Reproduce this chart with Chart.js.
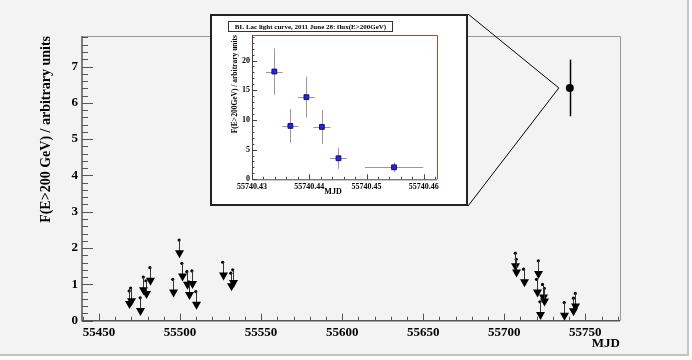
<!DOCTYPE html>
<html>
<head>
<meta charset="utf-8">
<script src="https://cdn.jsdelivr.net/npm/chart.js@4.4.0/dist/chart.umd.min.js"></script>
<style>
  html, body { margin: 0; padding: 0; background: #fff; }
  #wrap { position: relative; width: 692px; height: 360px; }
  #main { position: absolute; left: 0; top: 0; }
  #inset { position: absolute; left: 210px; top: 14px; }
</style>
</head>
<body>
<div id="wrap">
  <canvas id="main" width="692" height="360"></canvas>
  <canvas id="inset" width="258" height="192"></canvas>
</div>
<script>
// upper limits per night (MJD, flux UL)
var ulDates  = [55468.6, 55469.5, 55475.4, 55477.3, 55478.9, 55481.4, 55495.5, 55499.4, 55501.1,
                55504.2, 55505.4, 55507.3, 55509.7, 55526.3, 55531.3, 55532.5,
                55706.8, 55707.4, 55711.9, 55719.9, 55721.0, 55722.0, 55723.6, 55724.7,
                55737.0, 55742.7, 55743.8];
var ulValues = [0.82, 0.90, 0.63, 1.20, 1.10, 1.46, 1.14, 2.22, 1.58,
                1.35, 1.07, 1.37, 0.80, 1.61, 1.31, 1.40,
                1.86, 1.69, 1.42, 1.14, 1.65, 0.52, 1.00, 0.89,
                0.50, 0.62, 0.75];
var arrowLen = 0.5;

// the flare night
var flareDate = [55740.44];
var flareFlux = [6.41];
var flareErr  = [0.78];

// inset: 2011 June 28
var nightMjd     = [55740.4339, 55740.4367, 55740.4395, 55740.4422, 55740.4451, 55740.4548];
var nightMjdErr  = [0.00146, 0.0014, 0.0015, 0.0015, 0.0015, 0.0051];
var nightFlux    = [18.15, 8.99, 13.83, 8.82, 3.54, 2.02];
var nightFluxErr = [3.9, 2.85, 3.45, 2.85, 1.77, 0.8];

var xTicks = [55450, 55500, 55550, 55600, 55650, 55700, 55750];
var yTicks = [0, 1, 2, 3, 4, 5, 6, 7];
var insetXTicks = [55740.43, 55740.44, 55740.45, 55740.46];
var insetYTicks = [0, 5, 10, 15, 20];

var serif = "'Liberation Serif', 'Times New Roman', serif";

function minors(majors, step, lo, hi) {
  var out = [];
  var start = majors[0] - step * Math.ceil((majors[0] - lo) / step);
  for (var v = start; v <= hi + 1e-9; v += step) out.push(+v.toFixed(6));
  return out;
}

function drawTicks(ctx, chart, xs, ys, xl, yl) {
  var a = chart.chartArea, sx = chart.scales.x, sy = chart.scales.y;
  ctx.beginPath();
  xs.forEach(function (v) {
    if (v < sx.min || v > sx.max) return;
    var p = Math.round(sx.getPixelForValue(v)) + 0.5;
    ctx.moveTo(p, a.bottom); ctx.lineTo(p, a.bottom - xl);
  });
  ys.forEach(function (v) {
    if (v < sy.min || v > sy.max) return;
    var p = Math.round(sy.getPixelForValue(v)) + 0.5;
    ctx.moveTo(a.left, p); ctx.lineTo(a.left + yl, p);
  });
  ctx.stroke();
}

var mainDecor = {
  id: 'mainDecor',
  beforeDraw: function (chart) {
    var ctx = chart.ctx;
    ctx.save();
    ctx.fillStyle = '#f3f3f3';
    ctx.fillRect(0, 0, 689, 356);
    ctx.strokeStyle = '#c4c4c4';
    ctx.lineWidth = 2;
    ctx.beginPath();
    ctx.moveTo(0, 355); ctx.lineTo(688, 355); ctx.lineTo(688, 0);
    ctx.stroke();
    ctx.restore();
  },
  afterDatasetsDraw: function (chart) {
    var ctx = chart.ctx, a = chart.chartArea;
    var sx = chart.scales.x, sy = chart.scales.y;
    ctx.save();
    // frame
    ctx.strokeStyle = '#999';
    ctx.lineWidth = 1;
    ctx.beginPath();
    ctx.moveTo(a.left, a.top + 0.5); ctx.lineTo(a.right + 0.5, a.top + 0.5); ctx.lineTo(a.right + 0.5, a.bottom);
    ctx.stroke();
    ctx.strokeStyle = '#555';
    ctx.lineWidth = 1.5;
    ctx.beginPath();
    ctx.moveTo(a.left, a.top); ctx.lineTo(a.left, a.bottom); ctx.lineTo(a.right, a.bottom);
    ctx.stroke();
    ctx.lineWidth = 1;
    drawTicks(ctx, chart, xTicks, yTicks, 7, 11);
    drawTicks(ctx, chart, minors(xTicks, 10, sx.min, sx.max), minors(yTicks, 0.2, sy.min, sy.max), 4, 6);

    // upper limit arrows
    ulDates.forEach(function (d, i) {
      var x = Math.round(sx.getPixelForValue(d)) + 0.5;
      var y0 = sy.getPixelForValue(ulValues[i]);
      var y1 = sy.getPixelForValue(ulValues[i] - arrowLen);
      ctx.strokeStyle = '#333';
      ctx.lineWidth = 1;
      ctx.beginPath(); ctx.moveTo(x, y0); ctx.lineTo(x, y1 - 6); ctx.stroke();
      ctx.fillStyle = '#000';
      ctx.beginPath();
      ctx.moveTo(x, y1); ctx.lineTo(x - 4.5, y1 - 8); ctx.lineTo(x + 4.5, y1 - 8); ctx.closePath();
      ctx.fill();
    });

    // flare error bar
    flareDate.forEach(function (d, i) {
      var x = Math.round(sx.getPixelForValue(d)) + 0.5;
      ctx.strokeStyle = '#000';
      ctx.lineWidth = 1.5;
      ctx.beginPath();
      ctx.moveTo(x, sy.getPixelForValue(flareFlux[i] + flareErr[i]));
      ctx.lineTo(x, sy.getPixelForValue(flareFlux[i] - flareErr[i]));
      ctx.stroke();
      // zoom lines towards the inset
      var px = sx.getPixelForValue(d) - 11, py = sy.getPixelForValue(flareFlux[i]);
      ctx.lineWidth = 1;
      ctx.beginPath();
      ctx.moveTo(468, 14); ctx.lineTo(px, py); ctx.lineTo(468, 206);
      ctx.stroke();
    });
    ctx.restore();
  }
};

new Chart(document.getElementById('main'), {
  type: 'scatter',
  data: {
    datasets: [{
      data: ulDates.map(function (d, i) { return { x: d, y: ulValues[i] }; }),
      pointRadius: 1.6,
      pointBackgroundColor: '#000',
      pointBorderWidth: 0
    }, {
      data: flareDate.map(function (d, i) { return { x: d, y: flareFlux[i] }; }),
      pointRadius: 4,
      pointBackgroundColor: '#000',
      pointBorderWidth: 0
    }]
  },
  options: {
    responsive: false,
    animation: false,
    events: [],
    layout: { padding: { left: 0, top: 36, right: 72, bottom: 0 } },
    plugins: { legend: { display: false }, tooltip: { enabled: false } },
    scales: {
      x: {
        type: 'linear', min: 55439.5, max: 55771.4,
        grid: { display: false, drawTicks: false },
        border: { display: false },
        afterBuildTicks: function (s) { s.ticks = xTicks.map(function (v) { return { value: v }; }); },
        afterFit: function (s) { s.height = 39.3; },
        ticks: { color: '#000', padding: 4, maxRotation: 0, autoSkip: false,
                 font: { family: serif, size: 13, weight: 'bold' },
                 callback: function (v) { return String(v); } },
        title: { display: true, text: 'MJD', align: 'end', color: '#000',
                 padding: { bottom: 9 }, font: { family: serif, size: 13, weight: 'bold' } }
      },
      y: {
        min: 0, max: 7.84,
        grid: { display: false, drawTicks: false },
        border: { display: false },
        afterBuildTicks: function (s) { s.ticks = yTicks.map(function (v) { return { value: v }; }); },
        afterFit: function (s) { s.width = 82; },
        ticks: { color: '#000', padding: 4, autoSkip: false,
                 font: { family: serif, size: 13, weight: 'bold' } },
        title: { display: true, text: 'F(E>200 GeV) / arbitrary units', align: 'end', color: '#000',
                 padding: { top: 38 }, font: { family: serif, size: 14, weight: 'bold' } }
      }
    }
  },
  plugins: [mainDecor]
});

var insetDecor = {
  id: 'insetDecor',
  beforeDraw: function (chart) {
    var ctx = chart.ctx;
    ctx.save();
    ctx.fillStyle = '#fff';
    ctx.fillRect(0, 0, chart.width, chart.height);
    ctx.restore();
  },
  beforeDatasetsDraw: function (chart) {
    var ctx = chart.ctx, sx = chart.scales.x, sy = chart.scales.y;
    ctx.save();
    ctx.strokeStyle = '#999';
    ctx.lineWidth = 1;
    ctx.beginPath();
    nightMjd.forEach(function (m, i) {
      var x = Math.round(sx.getPixelForValue(m)) + 0.5, y = Math.round(sy.getPixelForValue(nightFlux[i])) + 0.5;
      ctx.moveTo(sx.getPixelForValue(m - nightMjdErr[i]), y);
      ctx.lineTo(sx.getPixelForValue(m + nightMjdErr[i]), y);
      ctx.moveTo(x, sy.getPixelForValue(nightFlux[i] + nightFluxErr[i]));
      ctx.lineTo(x, sy.getPixelForValue(nightFlux[i] - nightFluxErr[i]));
    });
    ctx.stroke();
    ctx.restore();
  },
  afterDraw: function (chart) {
    var ctx = chart.ctx, a = chart.chartArea;
    ctx.save();
    ctx.strokeStyle = '#a04a3a';
    ctx.lineWidth = 1;
    ctx.beginPath();
    ctx.moveTo(a.left, a.top + 0.5); ctx.lineTo(a.right + 0.5, a.top + 0.5); ctx.lineTo(a.right + 0.5, a.bottom);
    ctx.stroke();
    ctx.strokeStyle = '#444';
    ctx.beginPath();
    ctx.moveTo(a.left + 0.5, a.top); ctx.lineTo(a.left + 0.5, a.bottom + 0.5); ctx.lineTo(a.right, a.bottom + 0.5);
    ctx.stroke();
    var sx = chart.scales.x, sy = chart.scales.y;
    drawTicks(ctx, chart, insetXTicks, insetYTicks, 5, 5);
    drawTicks(ctx, chart, minors(insetXTicks, 0.002, sx.min, sx.max), minors(insetYTicks, 1, sy.min, sy.max), 2.5, 2.5);
    // x axis title, sitting between the tick labels as in the original
    ctx.fillStyle = '#000';
    ctx.font = 'bold 8px ' + serif;
    ctx.textAlign = 'center';
    ctx.textBaseline = 'middle';
    ctx.fillText('MJD', 123, 178);
    // title box
    ctx.fillStyle = '#fff';
    ctx.fillRect(18.5, 7.5, 164, 10);
    ctx.strokeStyle = '#333';
    ctx.strokeRect(18.5, 7.5, 164, 10);
    ctx.fillStyle = '#000';
    ctx.font = 'bold 7px ' + serif;
    ctx.fillText('BL Lac light curve, 2011 June 28: flux(E>200GeV)', 100.5, 12.8);
    // pad border
    ctx.strokeStyle = '#222';
    ctx.lineWidth = 2;
    ctx.strokeRect(1, 1, chart.width - 2, chart.height - 2);
    ctx.restore();
  }
};

new Chart(document.getElementById('inset'), {
  type: 'scatter',
  data: {
    datasets: [{
      data: nightMjd.map(function (m, i) { return { x: m, y: nightFlux[i] }; }),
      pointStyle: 'rect',
      pointRadius: 3.4,
      pointBackgroundColor: '#2a22e6',
      pointBorderColor: '#10107a',
      pointBorderWidth: 1
    }]
  },
  options: {
    responsive: false,
    animation: false,
    events: [],
    layout: { padding: { left: 0, top: 21, right: 31, bottom: 0 } },
    plugins: { legend: { display: false }, tooltip: { enabled: false } },
    scales: {
      x: {
        type: 'linear', min: 55740.43, max: 55740.4623,
        grid: { display: false, drawTicks: false },
        border: { display: false },
        afterBuildTicks: function (s) { s.ticks = insetXTicks.map(function (v) { return { value: v }; }); },
        afterFit: function (s) { s.height = 26.7; },
        ticks: { color: '#000', padding: 3, maxRotation: 0, autoSkip: false,
                 font: { family: serif, size: 8, weight: 'bold' },
                 callback: function (v) { return v.toFixed(2); } }
      },
      y: {
        min: 0, max: 24.3,
        grid: { display: false, drawTicks: false },
        border: { display: false },
        afterBuildTicks: function (s) { s.ticks = insetYTicks.map(function (v) { return { value: v }; }); },
        afterFit: function (s) { s.width = 42; },
        ticks: { color: '#000', padding: 2, autoSkip: false,
                 font: { family: serif, size: 8, weight: 'bold' } },
        title: { display: true, text: 'F(E>200GeV) / arbitrary units', align: 'end', color: '#000',
                 padding: { top: 21 }, font: { family: serif, size: 7.5, weight: 'bold' } }
      }
    }
  },
  plugins: [insetDecor]
});
</script>
</body>
</html>
